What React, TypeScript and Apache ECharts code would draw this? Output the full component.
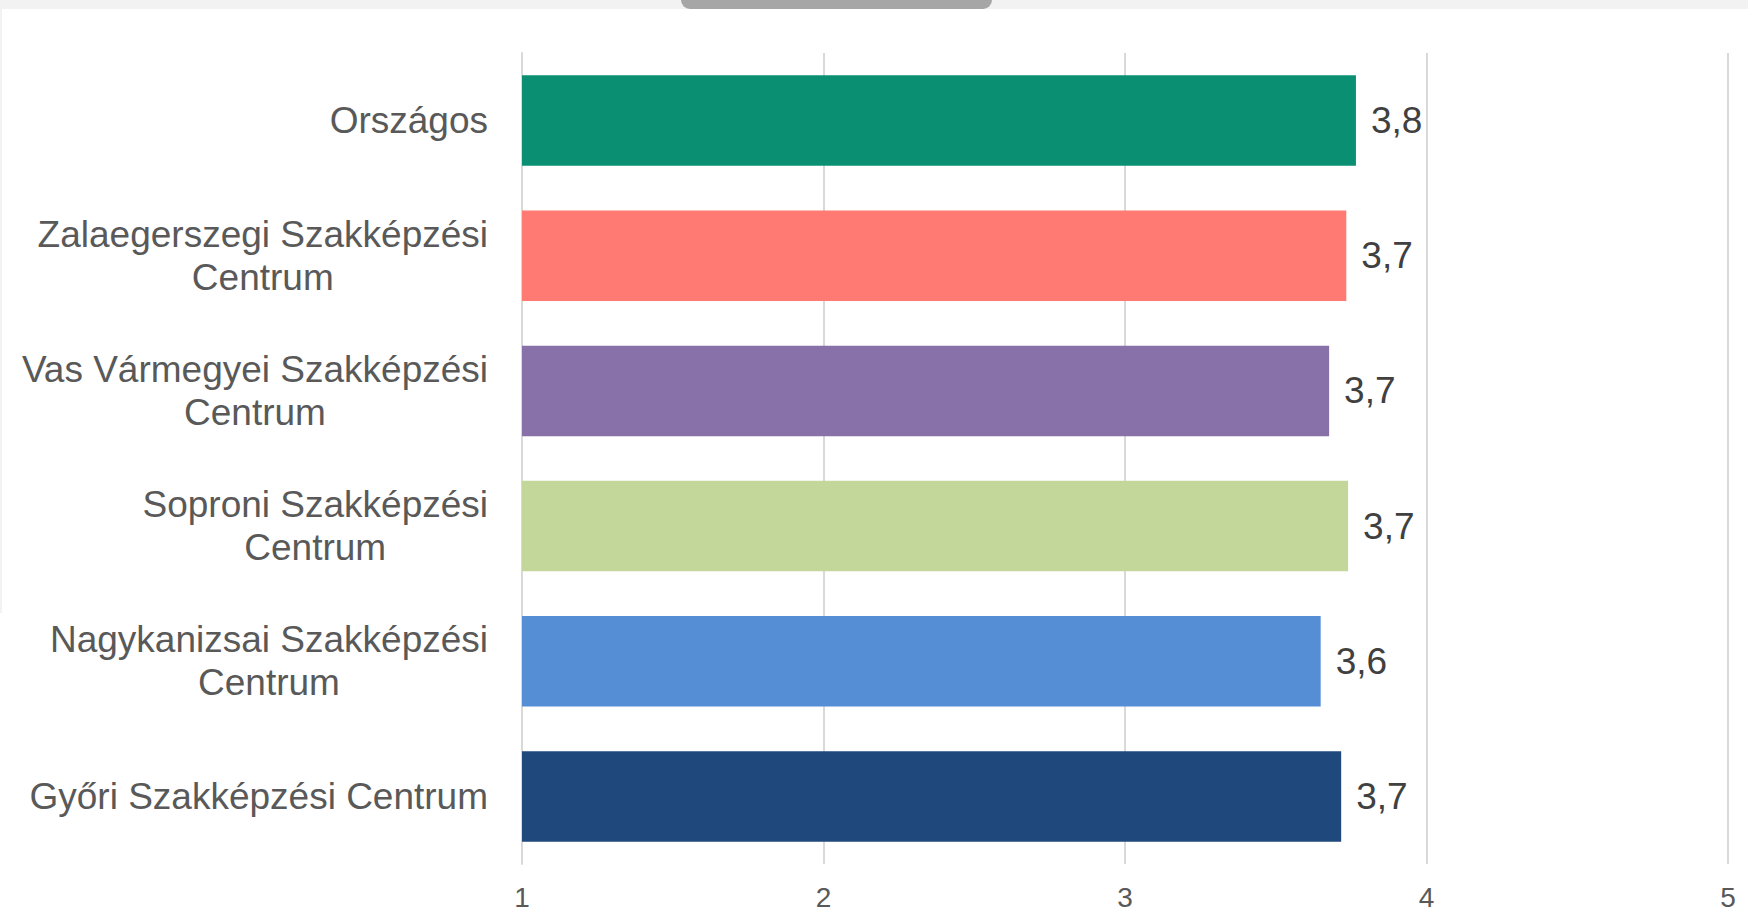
import React, { useEffect, useRef } from "react";
import * as echarts from "echarts";

const categories = [
  "Országos",
  "Zalaegerszegi Szakképzési Centrum",
  "Vas Vármegyei Szakképzési Centrum",
  "Soproni Szakképzési Centrum",
  "Nagykanizsai Szakképzési Centrum",
  "Győri Szakképzési Centrum",
];
const values = [3.766, 3.734, 3.677, 3.74, 3.649, 3.717];
const barColors = ["#0a8f72", "#fe7a72", "#8870a8", "#c4d79b", "#558ed5", "#1f497d"];
const xTicks = [1, 2, 3, 4, 5];

const FONT = "'Liberation Sans', Arial, sans-serif";

function wrapWords(text: string, maxWidth: number, fontSize: number): string[] {
  const ctx = document.createElement("canvas").getContext("2d") as CanvasRenderingContext2D;
  ctx.font = `${fontSize}px ${FONT}`;
  const words = text.split(" ");
  const lines: string[] = [];
  let cur = "";
  for (const w of words) {
    const t = cur ? cur + " " + w : w;
    if (cur && ctx.measureText(t).width > maxWidth) {
      lines.push(cur);
      cur = w;
    } else {
      cur = t;
    }
  }
  if (cur) lines.push(cur);
  return lines;
}

export default function App() {
  const ref = useRef<HTMLDivElement>(null);

  useEffect(() => {
    document.body.style.margin = "0";
    if (!ref.current) return;
    const chart = echarts.init(ref.current, undefined, { renderer: "svg" });
    chart.setOption({
      animation: false,
      backgroundColor: "#ffffff",
      grid: { left: 522, right: 20, top: 53, bottom: 48, containLabel: false },
      graphic: [
        { type: "rect", shape: { x: 0, y: 0, width: 1748, height: 9 }, style: { fill: "#f2f2f2" }, silent: true },
        { type: "rect", shape: { x: 0, y: 0, width: 2, height: 613 }, style: { fill: "#f2f2f2" }, silent: true },
        { type: "rect", shape: { x: 681, y: 0, width: 311, height: 9, r: [0, 0, 9, 9] }, style: { fill: "#a6a6a6" }, silent: true },
      ],
      xAxis: {
        type: "value",
        min: xTicks[0],
        max: xTicks[xTicks.length - 1],
        interval: 1,
        axisLine: { show: false },
        axisTick: { show: false },
        splitLine: { show: true, lineStyle: { color: "#d9d9d9", width: 2 } },
        axisLabel: { fontSize: 28, color: "#595959", fontFamily: FONT, margin: 19 },
      },
      yAxis: {
        type: "category",
        inverse: true,
        data: categories,
        axisTick: { show: false },
        axisLine: { show: true, lineStyle: { color: "#d9d9d9", width: 2 } },
        axisLabel: {
          margin: 34,
          formatter: (v: string) =>
            wrapWords(v, 480, 37)
              .map((l) => "{c|" + l + "}")
              .join("\n"),
          rich: {
            c: { fontSize: 37, lineHeight: 43, color: "#595959", fontFamily: FONT, align: "center" },
          },
        },
      },
      series: [
        {
          type: "bar",
          barCategoryGap: "33%",
          data: values.map((v, i) => ({ value: v, itemStyle: { color: barColors[i] } })),
          label: {
            show: true,
            position: "right",
            distance: 15,
            fontSize: 37,
            color: "#404040",
            fontFamily: FONT,
            formatter: (p: any) => Number(p.value).toFixed(1).replace(".", ","),
          },
        },
      ],
    });
    return () => chart.dispose();
  }, []);

  return <div ref={ref} style={{ width: 1748, height: 912 }} />;
}
